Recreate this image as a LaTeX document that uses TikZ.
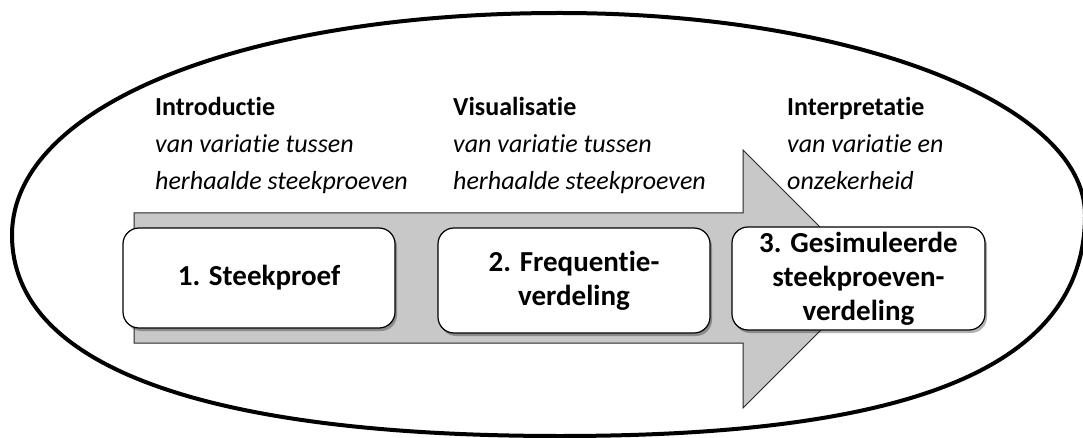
\documentclass[tikz,border=0pt]{standalone}
\usepackage{fontspec}
\setmainfont{Carlito}[Ligatures={NoCommon}]
\usetikzlibrary{shadows}
\definecolor{arrowgray}{RGB}{200,200,200}
\tikzset{
  oval/.style={line width=4pt, black},
  bigarrow/.style={fill=arrowgray, draw=black!85, line width=1pt},
  stepbox/.style={draw=black, line width=1.2pt, fill=white, rounded corners=16pt,
    align=center, font=\fontsize{29}{34}\selectfont\bfseries, inner sep=0pt,
    drop shadow={shadow xshift=2pt, shadow yshift=-3pt, opacity=0.3, fill=black}},
  head/.style={anchor=base west, inner sep=0pt, font=\fontsize{26}{30}\selectfont\bfseries},
  sub/.style={anchor=base west, inner sep=0pt, font=\fontsize{26}{30}\selectfont\itshape},
}
\begin{document}
\begin{tikzpicture}[x=1pt, y=-1pt]
\useasboundingbox (0,0) rectangle (1083,438);
% big oval
\coordinate (L) at (12,235);
\coordinate (T) at (560,13);
\coordinate (R) at (1085,215);
\coordinate (B) at (560,436);
\draw[oval] (L) .. controls (12,106) and (242,13) .. (T)
  .. controls (850,13) and (1085,103) .. (R)
  .. controls (1085,365) and (917,436) .. (B)
  .. controls (204,436) and (12,366) .. (L) -- cycle;
% big arrow
\draw[bigarrow] (134,213) -- (743,213) -- (743,150) -- (872,279) -- (743,408)
  -- (743,343) -- (134,343) -- cycle;
% boxes
\node[stepbox, minimum width=272pt, minimum height=100pt] (b1) at (259,278) {1. Steekproef};
\node[stepbox, minimum width=272pt, minimum height=105pt] (b2) at (574,280.5) {2. Frequentie-\\verdeling};
\node[stepbox, minimum width=253pt, minimum height=103pt] (b3) at (858.5,278.5) {3. Gesimuleerde\\steekproeven-\\verdeling};
% texts
\node[head] (h1) at (155,116) {Introductie};
\node[sub] (s1a) at (155,153) {van variatie tussen};
\node[sub] (s1b) at (155,190) {herhaalde steekproeven};
\node[head] (h2) at (453,116) {Visualisatie};
\node[sub] (s2a) at (453,153) {van variatie tussen};
\node[sub] (s2b) at (453,190) {herhaalde steekproeven};
\node[head] (h3) at (787,116) {Interpretatie};
\node[sub] (s3a) at (787,153) {van variatie en};
\node[sub] (s3b) at (787,190) {onzekerheid};
\end{tikzpicture}
\end{document}
